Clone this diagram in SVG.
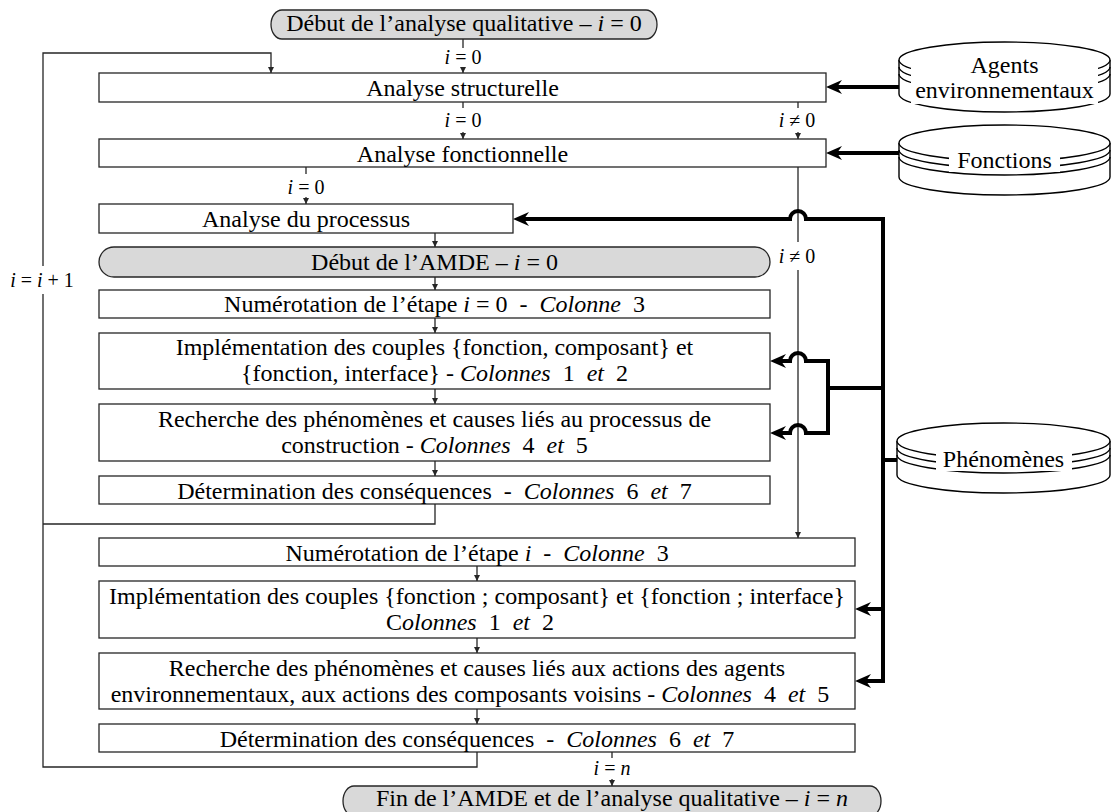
<svg xmlns="http://www.w3.org/2000/svg" width="1111" height="812" viewBox="0 0 1111 812">
<defs>
<style>
.bx{fill:#fff;stroke:#262626;stroke-width:1.3}
.tm{fill:#d9d9d9;stroke:#262626;stroke-width:1.3}
text{font-family:"Liberation Serif","Times New Roman",serif;font-size:24px;fill:#000;text-anchor:middle}
.lb{font-size:20px}
.i{font-style:italic}
.thin{fill:none;stroke:#262626;stroke-width:1.3}
.thick{fill:none;stroke:#000;stroke-width:4}
.cyl{fill:#fff;stroke:#000;stroke-width:1.4}
.arc{fill:none;stroke:#000;stroke-width:1.4}
.wm{fill:#fff}
</style>
<marker id="ah" markerUnits="userSpaceOnUse" markerWidth="7" markerHeight="7" refX="6" refY="3" orient="auto"><path d="M0,0 L6,3 L0,6 z" fill="#262626"/></marker>
<marker id="AH" markerUnits="userSpaceOnUse" markerWidth="17" markerHeight="15" refX="8" refY="7" orient="auto"><path d="M0,0 L16,7 L0,14 L5,7 z" fill="#000"/></marker>
</defs>
<rect width="1111" height="812" fill="#fff"/>

<g id="connectors">
<path class="thin" d="M463 39 V48"/>
<path class="thin" d="M463 67 V73" marker-end="url(#ah)"/>
<path class="thin" d="M463 102 V108"/>
<path class="thin" d="M463 132 V139" marker-end="url(#ah)"/>
<path class="thin" d="M798 102 V108"/>
<path class="thin" d="M798 132 V139" marker-end="url(#ah)"/>
<path class="thin" d="M306 167 V174"/>
<path class="thin" d="M306 197 V204" marker-end="url(#ah)"/>
<path class="thin" d="M798 167 V242"/>
<path class="thin" d="M798 270 V538" marker-end="url(#ah)"/>
<path class="thin" d="M612 752 V758"/>
<path class="thin" d="M612 779 V786" marker-end="url(#ah)"/>
<path class="thin" d="M43 266 V53 H271 V73" marker-end="url(#ah)"/>
<path class="thin" d="M477 752 V767 H43 V294"/>
<path class="thin" d="M435 504 V524 H43"/>
<path class="thin" d="M435 233 V247" marker-end="url(#ah)"/>
<path class="thin" d="M435 277 V290" marker-end="url(#ah)"/>
<path class="thin" d="M435 318 V333" marker-end="url(#ah)"/>
<path class="thin" d="M435 389 V404" marker-end="url(#ah)"/>
<path class="thin" d="M435 461 V476" marker-end="url(#ah)"/>
<path class="thin" d="M477 566 V581" marker-end="url(#ah)"/>
<path class="thin" d="M477 638 V653" marker-end="url(#ah)"/>
<path class="thin" d="M477 709 V724" marker-end="url(#ah)"/>

<path class="thick" d="M899 87 H834" marker-end="url(#AH)"/>
<path class="thick" d="M899 153 H834" marker-end="url(#AH)"/>
<path class="thick" d="M883 683 V217"/>
<path class="thick" d="M885 219 H806 A8 8 0 0 0 790 219 H521" marker-end="url(#AH)"/>
<path class="thick" d="M885 388 H828"/>
<path class="thick" d="M828 359 V435"/>
<path class="thick" d="M830 361 H806 A8 8 0 0 0 790 361 H778" marker-end="url(#AH)"/>
<path class="thick" d="M830 433 H806 A8 8 0 0 0 790 433 H778" marker-end="url(#AH)"/>
<path class="thick" d="M885 609 H863" marker-end="url(#AH)"/>
<path class="thick" d="M885 681 H863" marker-end="url(#AH)"/>
<path class="thick" d="M881 460 H897"/>

<text class="lb" x="463" y="64"><tspan class="i">i</tspan> = 0</text>
<text class="lb" x="463" y="127"><tspan class="i">i</tspan> = 0</text>
<text class="lb" x="797" y="127"><tspan class="i">i</tspan> ≠ 0</text>
<text class="lb" x="306" y="194"><tspan class="i">i</tspan> = 0</text>
<text class="lb" x="797" y="263"><tspan class="i">i</tspan> ≠ 0</text>
<text class="lb" x="42" y="287"><tspan class="i">i</tspan> = <tspan class="i">i</tspan> + 1</text>
<text class="lb" x="612" y="775"><tspan class="i">i</tspan> = <tspan class="i">n</tspan></text>
</g>

<g id="n-start"><rect class="tm" x="271" y="10" width="386" height="29" rx="11" ry="14.5"/><text x="464" y="31">Début de l’analyse qualitative – <tspan class="i">i</tspan> = 0</text></g>
<g id="n-struct"><rect class="bx" x="99" y="73" width="727" height="29"/><text x="462.5" y="96">Analyse structurelle</text></g>
<g id="n-fonc"><rect class="bx" x="99" y="139" width="727" height="28"/><text x="462.5" y="161.5">Analyse fonctionnelle</text></g>
<g id="n-proc"><rect class="bx" x="99" y="204" width="414" height="29"/><text x="306" y="227">Analyse du processus</text></g>
<g id="n-amde"><rect class="tm" x="99" y="247" width="671" height="30" rx="15" ry="15"/><text x="434.5" y="270">Début de l’AMDE – <tspan class="i">i</tspan> = 0</text></g>
<g id="n-num0"><rect class="bx" x="99" y="290" width="671" height="28"/><text x="434.5" y="312">Numérotation de l’étape <tspan class="i">i</tspan> = 0 &#160;- &#160;<tspan class="i">Colonne</tspan> &#160;3</text></g>
<g id="n-impl0"><rect class="bx" x="99" y="333" width="671" height="56"/><text x="434.5" y="355">Implémentation des couples {fonction, composant} et</text><text x="434.5" y="381">{fonction, interface} - <tspan class="i">Colonnes</tspan> &#160;1 &#160;<tspan class="i">et</tspan> &#160;2</text></g>
<g id="n-rech0"><rect class="bx" x="99" y="404" width="671" height="57"/><text x="434.5" y="427">Recherche des phénomènes et causes liés au processus de</text><text x="434.5" y="453">construction - <tspan class="i">Colonnes</tspan> &#160;4 &#160;<tspan class="i">et</tspan> &#160;5</text></g>
<g id="n-det0"><rect class="bx" x="99" y="476" width="671" height="28"/><text x="434.5" y="498.5">Détermination des conséquences &#160;- &#160;<tspan class="i">Colonnes</tspan> &#160;6 &#160;<tspan class="i">et</tspan> &#160;7</text></g>
<g id="n-numi"><rect class="bx" x="99" y="538" width="756" height="28"/><text x="477" y="560.5">Numérotation de l’étape <tspan class="i">i</tspan> &#160;- &#160;<tspan class="i">Colonne</tspan> &#160;3</text></g>
<g id="n-impli"><rect class="bx" x="99" y="581" width="756" height="57"/><text x="477" y="604">Implémentation des couples {fonction ; composant} et {fonction ; interface}</text><text x="470" y="630">C<tspan class="i">olonnes</tspan> &#160;1 &#160;<tspan class="i">et</tspan> &#160;2</text></g>
<g id="n-rechi"><rect class="bx" x="99" y="653" width="756" height="56"/><text x="477" y="676">Recherche des phénomènes et causes liés aux actions des agents</text><text x="470" y="702">environnementaux, aux actions des composants voisins - <tspan class="i">Colonnes</tspan> &#160;4 &#160;<tspan class="i">et</tspan> &#160;5</text></g>
<g id="n-deti"><rect class="bx" x="99" y="724" width="756" height="28"/><text x="477" y="746.5">Détermination des conséquences &#160;- &#160;<tspan class="i">Colonnes</tspan> &#160;6 &#160;<tspan class="i">et</tspan> &#160;7</text></g>
<g id="n-end"><rect class="tm" x="343" y="786" width="538" height="30" rx="11" ry="15"/><text x="612" y="806">Fin de l’AMDE et de l’analyse qualitative – <tspan class="i">i</tspan> = <tspan class="i">n</tspan></text></g>

<g id="n-agents">
<path class="cyl" d="M899 60 V94 A105.5 18 0 0 0 1110 94 V60"/>
<ellipse class="cyl" cx="1004.5" cy="60" rx="105.5" ry="18"/>
<path class="arc" d="M899 67 A105.5 18 0 0 0 1110 67 M899 74 A105.5 18 0 0 0 1110 74"/>
<rect class="wm" x="911" y="62" width="187" height="42"/>
<text x="1004.5" y="73">Agents</text>
<text x="1004.5" y="98">environnementaux</text>
</g>
<g id="n-fonctions">
<path class="cyl" d="M899 143 V177 A105.5 18 0 0 0 1110 177 V143"/>
<ellipse class="cyl" cx="1004.5" cy="143" rx="105.5" ry="18"/>
<path class="arc" d="M899 150 A105.5 18 0 0 0 1110 150 M899 157 A105.5 18 0 0 0 1110 157"/>
<rect class="wm" x="949" y="146" width="111" height="26"/>
<text x="1004.5" y="168">Fonctions</text>
</g>
<g id="n-phen">
<path class="cyl" d="M897 441 V475 A106.5 18 0 0 0 1110 475 V441"/>
<ellipse class="cyl" cx="1003.5" cy="441" rx="106.5" ry="18"/>
<path class="arc" d="M897 448 A106.5 18 0 0 0 1110 448 M897 455 A106.5 18 0 0 0 1110 455"/>
<rect class="wm" x="936" y="444" width="136" height="27"/>
<text x="1003.5" y="467">Phénomènes</text>
</g>
</svg>
